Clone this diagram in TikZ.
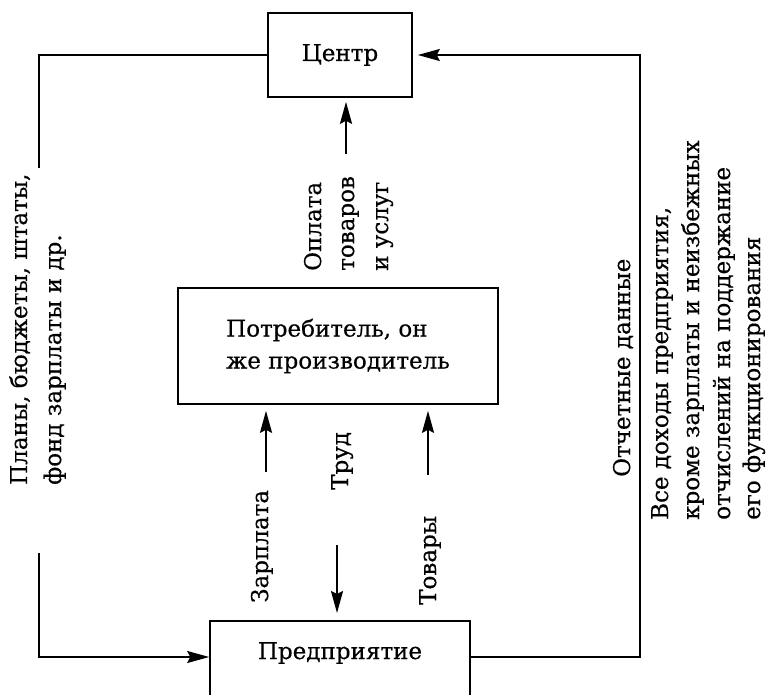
\documentclass[tikz,border=0pt]{standalone}
\usepackage{fontspec}
\setmainfont{DejaVu Serif}
\newfontfamily\diafont{DejaVu Serif}[FakeBold=0.5]
\usetikzlibrary{arrows.meta,calc}
\begin{document}
\begin{tikzpicture}[x=1pt,y=-1pt,
  box/.style={draw, line width=1.6pt, inner sep=0pt, align=left, font=\diafont\fontsize{23}{32}\selectfont},
  txt/.style={font=\diafont\fontsize{23}{32}\selectfont, inner sep=0pt, text height=17pt, text depth=5pt},
  vtxt/.style={txt, rotate=90, anchor=west},
  conn/.style={line width=1.5pt},
  tip/.style={-{Stealth[length=22pt,width=12pt,inset=3pt]}},
  arr/.style={line width=2pt, tip}]
\useasboundingbox (0,0) rectangle (769,694);

% boxes
\node[box, minimum width=144pt, minimum height=84pt] (centr) at (340,55) {Центр};
\node[box, minimum width=320pt, minimum height=116pt] (cons) at (338,346) {Потребитель, он\\же производитель};
\node[box, minimum width=260pt, minimum height=90pt, anchor=north] (ent) at (340,620) {};
\node[txt] (enttxt) at (340,653) {Предприятие};

% outer loop
\coordinate (l1) at (39,168);
\coordinate (l2) at (39,553);
\coordinate (r1) at (640,55);
\draw[conn] (centr.west) -| (l1);
\draw[conn, tip] (l2) |- ($(ent.north west)+(0,37)$);
\draw[conn, tip, shorten >=5pt] ($(ent.north east)+(0,37)$) -| (r1) -- (centr.east);

% inner arrows
\coordinate (pay) at (346,154);
\coordinate (wage) at (266,472);
\coordinate (goods) at (428,475);
\coordinate (lab) at (337,545);
\draw[arr, shorten >=4pt] (pay) -- (pay |- centr.south);
\draw[arr, shorten >=6pt] (wage) -- (wage |- cons.south);
\draw[arr, shorten >=6pt] (goods) -- (goods |- cons.south);
\draw[arr, shorten >=7pt] (lab) -- (lab |- ent.north);

% labels
\node[vtxt] (plan1) at (21,485) {Планы, бюджеты, штаты,};
\node[vtxt] (plan2) at (55,485) {фонд зарплаты и др.};
\node[vtxt] (pay1) at (315,271) {Оплата};
\node[vtxt] (pay2) at (348,271) {товаров};
\node[vtxt] (pay3) at (382,271) {и услуг};
\node[vtxt] (rep) at (624,477) {Отчетные данные};
\node[vtxt] (inc1) at (662,520) {Все доходы предприятия,};
\node[vtxt] (inc2) at (693,520) {кроме зарплаты и неизбежных};
\node[vtxt] (inc3) at (724,520) {отчислений на поддержание};
\node[vtxt] (inc4) at (754,520) {его функционирования};
\node[vtxt] (wagetxt) at (262,603) {Зарплата};
\node[vtxt] (labtxt) at (342,490) {Труд};
\node[vtxt] (goodstxt) at (430,605) {Товары};
\end{tikzpicture}
\end{document}
